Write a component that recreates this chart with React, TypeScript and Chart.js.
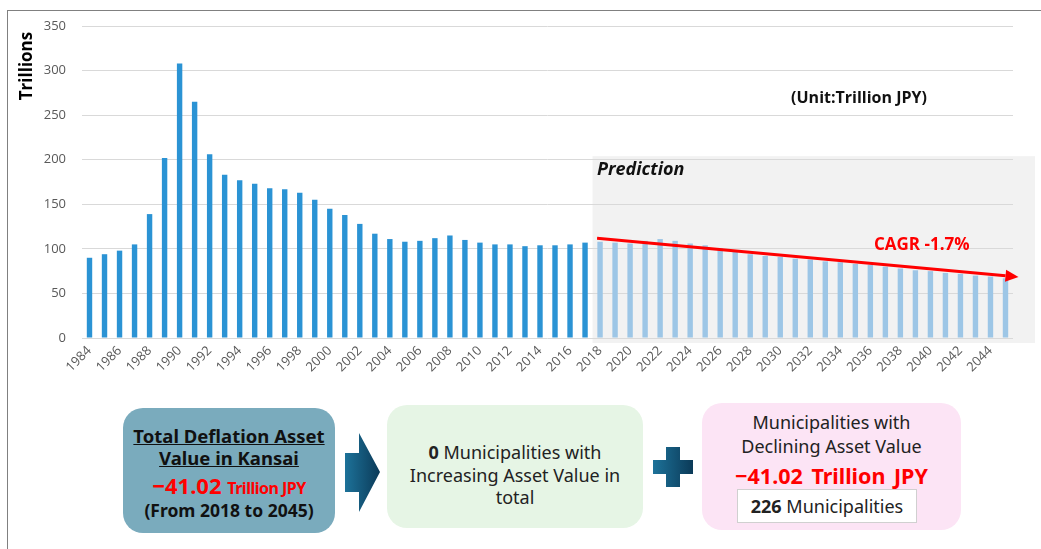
import React, { useEffect, useRef } from "react";
import { Chart, registerables } from "chart.js";

Chart.register(...registerables);

const years: string[] = [
  "1984", "1985", "1986", "1987", "1988", "1989", "1990", "1991", "1992", "1993",
  "1994", "1995", "1996", "1997", "1998", "1999", "2000", "2001", "2002", "2003",
  "2004", "2005", "2006", "2007", "2008", "2009", "2010", "2011", "2012", "2013",
  "2014", "2015", "2016", "2017", "2018", "2019", "2020", "2021", "2022", "2023",
  "2024", "2025", "2026", "2027", "2028", "2029", "2030", "2031", "2032", "2033",
  "2034", "2035", "2036", "2037", "2038", "2039", "2040", "2041", "2042", "2043",
  "2044", "2045",
];

// 1984–2017 actual values (Trillion JPY)
const actualValues: number[] = [
  90, 94, 98, 105, 139, 202, 308, 265, 206, 183,
  177, 173, 168, 167, 163, 155, 145, 138, 128, 117,
  111, 108, 109, 112, 115, 110, 107, 105, 105, 103,
  104, 104, 105, 107,
];

// 2018–2045 predicted values (Trillion JPY)
const predictedValues: number[] = [
  108, 107, 106, 109, 111, 109, 106, 104, 101, 97,
  94, 92, 91, 89, 88, 86, 85, 83, 82, 80,
  78, 76, 75, 73, 72, 70, 69, 67,
];

const yTicks: number[] = [0, 50, 100, 150, 200, 250, 300, 350];
const trendStart = 112;
const trendEnd = 68.5;
const predictionTop = 204;
const cagrLabel = "CAGR -1.7%";

const DARK = "#2b93d4";
const LIGHT = "#9dc6e6";

function ChartCanvas() {
  const ref = useRef<HTMLCanvasElement | null>(null);
  useEffect(() => {
    if (!ref.current) return;
    const values = [...actualValues, ...predictedValues];
    const colors = values.map((_, i) => (i < actualValues.length ? DARK : LIGHT));
    const predIdx = actualValues.length;

    const overlay = {
      id: "overlay",
      beforeDraw(chart: any) {
        const { ctx, chartArea, scales } = chart;
        const x = scales.x;
        const y = scales.y;
        const half = (x.getPixelForValue(1) - x.getPixelForValue(0)) / 2;
        const left = x.getPixelForValue(predIdx) - half;
        const right = chartArea.right + 22;
        const top = y.getPixelForValue(predictionTop);
        const bottom = chartArea.bottom + 5;
        ctx.save();
        ctx.fillStyle = "#f2f2f2";
        ctx.fillRect(left, top, right - left, bottom - top);
        ctx.restore();
      },
      afterDatasetsDraw(chart: any) {
        const { ctx, scales } = chart;
        const x = scales.x;
        const y = scales.y;
        ctx.save();
        // Trend line with arrow
        const x0 = x.getPixelForValue(predIdx) - 3;
        const y0 = y.getPixelForValue(trendStart);
        const x1 = x.getPixelForValue(values.length - 1) + 13;
        const y1 = y.getPixelForValue(trendEnd);
        const ang = Math.atan2(y1 - y0, x1 - x0);
        const headLen = 13;
        const headW = 6;
        const bx = x1 - headLen * Math.cos(ang);
        const by = y1 - headLen * Math.sin(ang);
        ctx.strokeStyle = "#ff0000";
        ctx.lineWidth = 3;
        ctx.beginPath();
        ctx.moveTo(x0, y0);
        ctx.lineTo(bx, by);
        ctx.stroke();
        ctx.fillStyle = "#ff0000";
        ctx.beginPath();
        ctx.moveTo(x1, y1);
        ctx.lineTo(bx + headW * Math.sin(ang), by - headW * Math.cos(ang));
        ctx.lineTo(bx - headW * Math.sin(ang), by + headW * Math.cos(ang));
        ctx.closePath();
        ctx.fill();

        // Texts
        ctx.textBaseline = "middle";
        ctx.fillStyle = "#ff0000";
        ctx.font = "bold 17px 'Open Sans', sans-serif";
        ctx.textAlign = "left";
        ctx.fillText(cagrLabel, 874, 245);

        ctx.fillStyle = "#111111";
        ctx.font = "italic bold 18px 'Open Sans', sans-serif";
        ctx.fillText("Prediction", 597, 170);

        ctx.font = "bold 16px 'Open Sans', sans-serif";
        ctx.textAlign = "center";
        ctx.fillText("(Unit:Trillion JPY)", 859, 98);

        ctx.save();
        ctx.translate(27, 66);
        ctx.rotate(-Math.PI / 2);
        ctx.font = "bold 17px 'Open Sans', sans-serif";
        ctx.fillStyle = "#000";
        ctx.fillText("Trillions", 0, 0);
        ctx.restore();
        ctx.restore();
      },
    };

    const chart = new Chart(ref.current, {
      type: "bar",
      data: {
        labels: years,
        datasets: [
          {
            data: values,
            backgroundColor: colors,
            barPercentage: 0.36,
            categoryPercentage: 1,
          },
        ],
      },
      options: {
        animation: false,
        responsive: false,
        maintainAspectRatio: false,
        layout: { padding: { left: 0, top: 26, right: 28, bottom: 0 } },
        plugins: { legend: { display: false }, tooltip: { enabled: false } },
        scales: {
          x: {
            grid: { display: false, drawTicks: false },
            border: { display: false },
            ticks: {
              autoSkip: false,
              maxRotation: 45,
              minRotation: 45,
              padding: 5,
              color: "#595959",
              font: { family: "'Open Sans', sans-serif", size: 13 },
              callback: (_v: any, i: number) => (Number(years[i]) % 2 === 0 ? years[i] : ""),
            },
            afterFit: (s: any) => {
              s.height = 62;
            },
          },
          y: {
            min: 0,
            max: 350,
            afterBuildTicks: (s: any) => {
              s.ticks = yTicks.map((v) => ({ value: v }));
            },
            grid: { color: "#d9d9d9", drawTicks: false, lineWidth: 1 },
            border: { display: false },
            ticks: {
              padding: 16,
              color: "#595959",
              font: { family: "'Open Sans', sans-serif", size: 13 },
            },
            afterFit: (s: any) => {
              s.width = 82;
            },
          },
        },
      },
      plugins: [overlay],
    });
    return () => chart.destroy();
  }, []);
  return (
    <canvas
      ref={ref}
      width={1041}
      height={400}
      style={{ position: "absolute", left: 0, top: 0, width: 1041, height: 400 }}
    />
  );
}

const boxFont = "'Noto Sans', 'Open Sans', sans-serif";

export default function App() {
  return (
    <div
      style={{
        position: "absolute",
        left: 0,
        top: 0,
        width: 1041,
        height: 549,
        overflow: "hidden",
        background: "#ffffff",
        fontFamily: boxFont,
      }}
    >
      <div
        style={{
          position: "absolute",
          left: 7,
          top: 10,
          width: 1040,
          height: 545,
          borderTop: "1px solid #808080",
          borderLeft: "1px solid #808080",
        }}
      />
      <ChartCanvas />

      {/* Box 1 */}
      <div
        style={{
          position: "absolute",
          left: 123,
          top: 408,
          width: 212,
          height: 125,
          borderRadius: 20,
          background: "#7aabbd",
          color: "#111",
          textAlign: "center",
          fontWeight: 700,
          whiteSpace: "nowrap",
        }}
      >
        <div style={{ position: "absolute", top: 16, width: "100%", fontSize: 18.5, lineHeight: "24px" }}>
          <span style={{ textDecoration: "underline" }}>Total Deflation Asset</span>
        </div>
        <div style={{ position: "absolute", top: 38, width: "100%", fontSize: 18.5, lineHeight: "24px" }}>
          <span style={{ textDecoration: "underline" }}>Value in Kansai</span>
        </div>
        <div style={{ position: "absolute", top: 63, width: "100%", lineHeight: "28px", color: "#ff0000" }}>
          <span style={{ fontSize: 22 }}>−41.02 </span>
          <span style={{ fontSize: 16, letterSpacing: -0.5 }}>Trillion JPY</span>
        </div>
        <div style={{ position: "absolute", top: 90, width: "100%", fontSize: 17.5, lineHeight: "24px" }}>
          (From 2018 to 2045)
        </div>
      </div>

      {/* Arrow */}
      <svg style={{ position: "absolute", left: 343, top: 430 }} width={40} height={86}>
        <defs>
          <linearGradient id="ag" x1="0" x2="1" y1="0" y2="0">
            <stop offset="0" stopColor="#1d7299" />
            <stop offset="1" stopColor="#0b3a58" />
          </linearGradient>
        </defs>
        <path d="M2 23 L16 23 L16 3 L37 42 L16 82 L16 62 L2 62 Z" fill="url(#ag)" />
      </svg>

      {/* Box 2 */}
      <div
        style={{
          position: "absolute",
          left: 387,
          top: 405,
          width: 256,
          height: 123,
          borderRadius: 20,
          background: "#e6f5e5",
          color: "#222",
          textAlign: "center",
          fontSize: 18,
          lineHeight: "24px",
          whiteSpace: "nowrap",
        }}
      >
        <div style={{ position: "absolute", top: 35, width: "100%" }}>
          <b>0</b> Municipalities with
        </div>
        <div style={{ position: "absolute", top: 58, width: "100%" }}>Increasing Asset Value in</div>
        <div style={{ position: "absolute", top: 80, width: "100%" }}>total</div>
      </div>

      {/* Plus */}
      <svg style={{ position: "absolute", left: 652, top: 446 }} width={42} height={42}>
        <defs>
          <linearGradient id="pg" x1="0" x2="1" y1="0" y2="0">
            <stop offset="0" stopColor="#1d7299" />
            <stop offset="1" stopColor="#0b3a58" />
          </linearGradient>
        </defs>
        <path
          d="M14 1 L28 1 L28 14 L41 14 L41 28 L28 28 L28 41 L14 41 L14 28 L1 28 L1 14 L14 14 Z"
          fill="url(#pg)"
        />
      </svg>

      {/* Box 3 */}
      <div
        style={{
          position: "absolute",
          left: 702,
          top: 403,
          width: 259,
          height: 127,
          borderRadius: 20,
          background: "#fce4f5",
          color: "#222",
          textAlign: "center",
          fontSize: 18,
          lineHeight: "24px",
          whiteSpace: "nowrap",
        }}
      >
        <div style={{ position: "absolute", top: 7, width: "100%" }}>Municipalities with</div>
        <div style={{ position: "absolute", top: 31, width: "100%" }}>Declining Asset Value</div>
        <div
          style={{
            position: "absolute",
            top: 59,
            width: "100%",
            fontSize: 21.5,
            fontWeight: 700,
            color: "#ff0000",
            lineHeight: "28px",
            wordSpacing: 3,
          }}
        >
          −41.02 Trillion JPY
        </div>
        <div
          style={{
            position: "absolute",
            left: 35,
            top: 86,
            width: 178,
            height: 32,
            background: "#ffffff",
            border: "1px solid #d0d0d0",
            lineHeight: "32px",
            fontSize: 18,
          }}
        >
          <b>226</b> Municipalities
        </div>
      </div>
    </div>
  );
}
